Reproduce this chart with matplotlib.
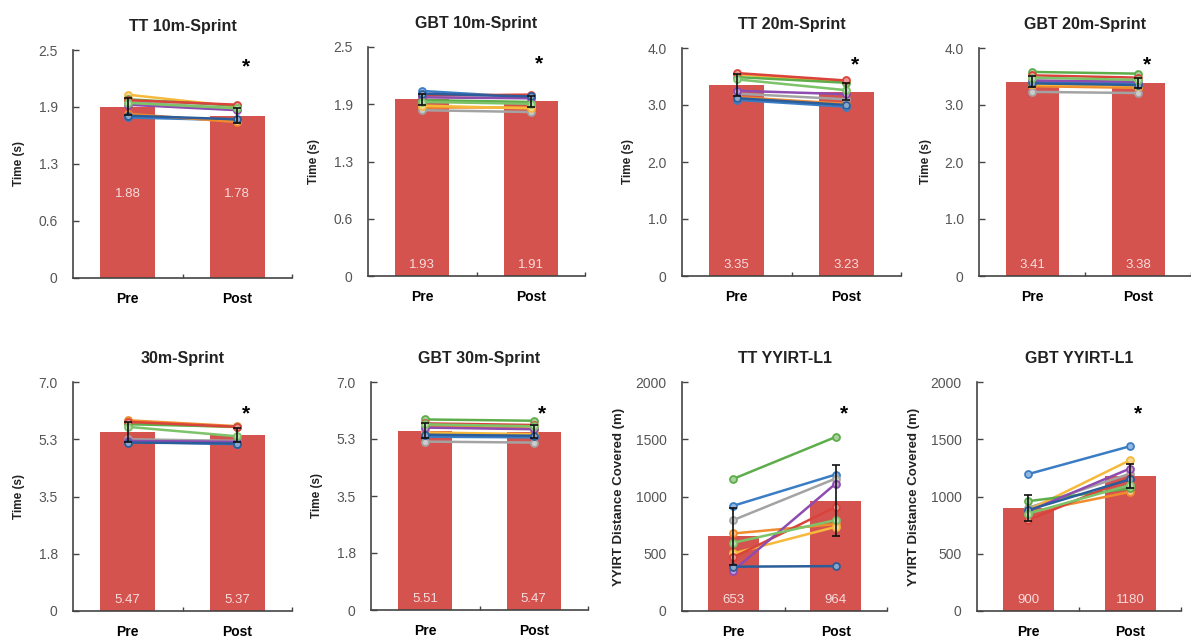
import numpy as np
import matplotlib.pyplot as plt

plt.rcParams['font.family'] = ['Liberation Sans', 'DejaVu Sans']

# --- data ---
titles = ['TT 10m-Sprint', 'GBT 10m-Sprint', 'TT 20m-Sprint', 'GBT 20m-Sprint',
          '30m-Sprint', 'GBT 30m-Sprint', 'TT YYIRT-L1', 'GBT YYIRT-L1']
groups = ['Pre', 'Post']

mean_pre = [1.88, 1.93, 3.35, 3.41, 5.47, 5.51, 653, 900]
mean_post = [1.78, 1.91, 3.23, 3.38, 5.37, 5.47, 964, 1180]
sd_pre = [0.09, 0.06, 0.20, 0.10, 0.30, 0.22, 250, 110]
sd_post = [0.08, 0.06, 0.15, 0.09, 0.21, 0.20, 310, 105]
mean_text_pre = ['1.88', '1.93', '3.35', '3.41', '5.47', '5.51', '653', '900']
mean_text_post = ['1.78', '1.91', '3.23', '3.38', '5.37', '5.47', '964', '1180']

# individual participants (pre, post)
ind_pre = [
    [1.76, 1.80, 1.93, 2.01, 1.96, 1.95, 1.90, 1.78, 1.92],
    [2.02, 1.85, 1.81, 1.86, 1.92, 1.97, 1.95, 1.99, 1.90],
    [3.09, 3.14, 3.20, 3.54, 3.49, 3.56, 3.25, 3.12, 3.45],
    [3.40, 3.33, 3.23, 3.36, 3.58, 3.52, 3.43, 3.38, 3.48],
    [5.17, 5.83, 5.25, 5.75, 5.71, 5.78, 5.20, 5.15, 5.63],
    [5.32, 5.65, 5.17, 5.45, 5.85, 5.73, 5.60, 5.38, 5.70],
    [919, 677, 794, 503, 1154, 468, 352, 387, 596],
    [1195, 860, 900, 880, 959, 794, 870, 881, 850],
]
ind_post = [
    [1.73, 1.71, 1.86, 1.88, 1.89, 1.90, 1.84, 1.74, 1.86],
    [1.95, 1.85, 1.79, 1.83, 1.90, 1.98, 1.94, 1.96, 1.88],
    [2.97, 3.02, 3.10, 3.40, 3.39, 3.43, 3.19, 3.00, 3.26],
    [3.38, 3.30, 3.21, 3.34, 3.55, 3.48, 3.41, 3.35, 3.44],
    [5.10, 5.65, 5.20, 5.62, 5.63, 5.63, 5.17, 5.12, 5.34],
    [5.30, 5.57, 5.14, 5.40, 5.81, 5.68, 5.55, 5.35, 5.64],
    [1192, 759, 1157, 735, 1520, 910, 1113, 392, 794],
    [1439, 1040, 1200, 1317, 1070, 1160, 1244, 1150, 1100],
]

yticks = [[0, 0.625, 1.25, 1.875, 2.5]] * 2 + [[0, 1, 2, 3, 4]] * 2 + \
         [[0, 1.75, 3.5, 5.25, 7.0]] * 2 + [[0, 500, 1000, 1500, 2000]] * 2
ytick_labels = [['0', '0.6', '1.3', '1.9', '2.5']] * 2 + [['0', '1.0', '2.0', '3.0', '4.0']] * 2 + \
               [['0', '1.8', '3.5', '5.3', '7.0']] * 2 + [['0', '500', '1000', '1500', '2000']] * 2
ylabels = ['Time (s)'] * 6 + ['YYIRT Distance Covered (m)'] * 2

# --- style ---
bar_color = '#d4534f'
line_colors = ['#3b7dc4', '#f08c2e', '#a3a3a3', '#f6b93b', '#5dad4a',
               '#d9433b', '#8e4bb0', '#2b5d9b', '#7cc36a']

W, H = 1191, 639
# left, bottom (px from top), width, height
pos_px = [(73, 278, 219, 228), (368, 276, 217, 229), (682, 276, 219, 228), (979, 276, 212, 228),
          (73, 611, 219, 229), (371, 610, 217, 228), (682, 611, 205, 229), (977, 611, 204, 229)]
label_frac = [0.34, 0.02, 0.02, 0.02, 0.02, 0.02, 0.02, 0.02]


def lighten(c, f=0.45):
    c = np.array([int(c[i:i + 2], 16) for i in (1, 3, 5)]) / 255.0
    return tuple(c + (1 - c) * f)


fig = plt.figure(figsize=(W / 100, H / 100), dpi=100)

for i in range(8):
    l, b, w, h = pos_px[i]
    ax = fig.add_axes([l / W, (H - b) / H, w / W, h / H])

    ax.bar([0, 1], [mean_pre[i], mean_post[i]], width=0.5, color=bar_color, zorder=1)

    for k in range(len(ind_pre[i])):
        c = line_colors[k % len(line_colors)]
        ax.plot([0, 1], [ind_pre[i][k], ind_post[i][k]], color=c, lw=1.8,
                marker='o', ms=5, mfc=lighten(c), mec=c, mew=1.3, zorder=3)

    ax.errorbar([0, 1], [mean_pre[i], mean_post[i]], yerr=[sd_pre[i], sd_post[i]],
                fmt='none', ecolor='#111111', elinewidth=1.2, capsize=3, capthick=1.2, zorder=4)

    ymax = yticks[i][-1]
    ax.set_ylim(0, ymax)
    ax.set_xlim(-0.5, 1.5)
    ax.set_yticks(yticks[i])
    ax.set_yticklabels(ytick_labels[i])
    ax.set_xticks([0, 1])
    ax.set_xticklabels(groups, fontweight='bold', fontsize=10)
    ax.set_xticks([0.5, 1.5], minor=True)

    ax.tick_params(axis='y', direction='in', length=4, width=1, colors='#444444',
                   labelcolor='#555555', labelsize=10, pad=11)
    ax.tick_params(axis='x', which='major', length=0, pad=10)
    ax.tick_params(axis='x', which='minor', direction='in', length=3, width=1, color='#444444')

    for s in ['top', 'right']:
        ax.spines[s].set_visible(False)
    for s in ['left', 'bottom']:
        ax.spines[s].set_color('#444444')
        ax.spines[s].set_linewidth(1.2)

    ax.set_title(titles[i], fontsize=11.5, fontweight='bold', color='#222222', pad=14)
    if i >= 6:
        ax.set_ylabel(ylabels[i], fontsize=9.5, fontweight='bold', color='#222222')
        ax.yaxis.set_label_coords(-0.28, 0.5)
    else:
        ax.set_ylabel(ylabels[i], fontsize=8.5, fontweight='bold', color='#222222')
        ax.yaxis.set_label_coords(-0.22, 0.5)

    # values inside bars
    ly = label_frac[i] * ymax
    ax.text(0, ly, mean_text_pre[i], ha='center', va='bottom', color='#f6dcdc', fontsize=9.5, zorder=5)
    ax.text(1, ly, mean_text_post[i], ha='center', va='bottom', color='#f6dcdc', fontsize=9.5, zorder=5)

    # significance star
    sy = 0.925 if i < 4 else 0.86
    ax.text(0.79, sy, '*', transform=ax.transAxes, ha='center', va='center',
            fontsize=15, fontweight='bold', color='black')

fig.savefig('out.png', dpi=100)
